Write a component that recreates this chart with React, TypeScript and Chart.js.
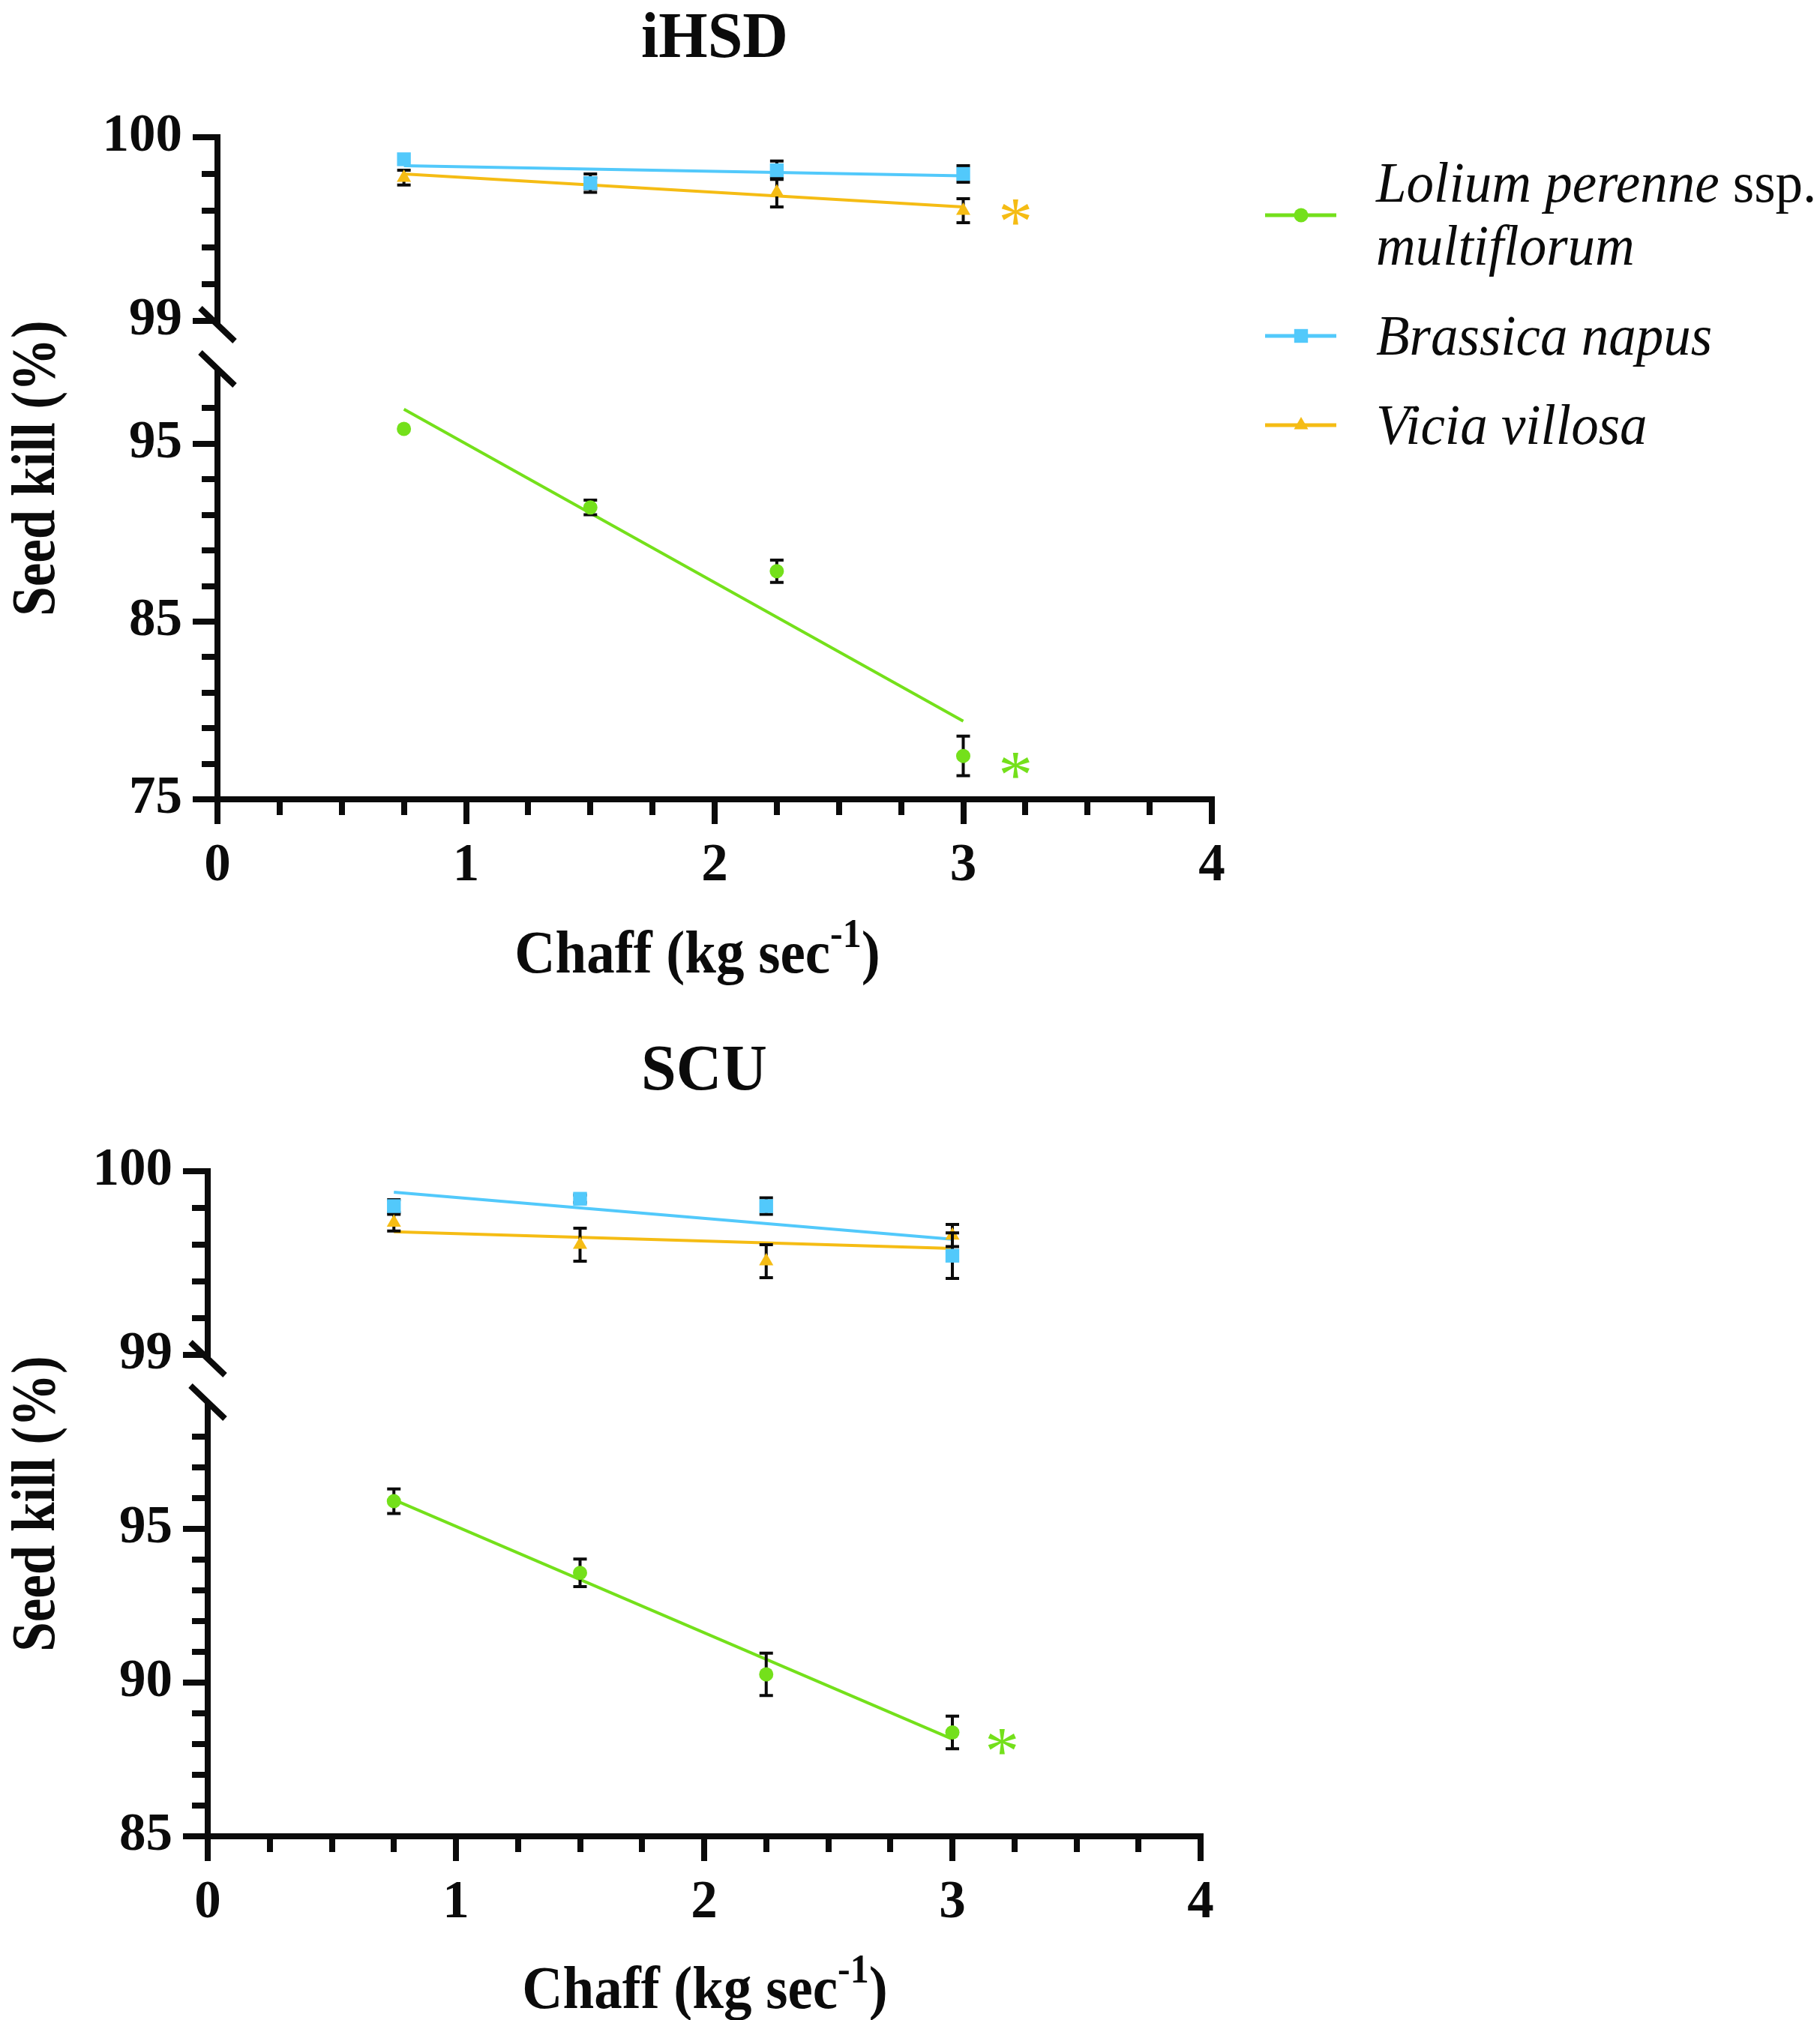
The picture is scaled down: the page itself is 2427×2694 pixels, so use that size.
import { useEffect, useRef } from "react";
import { Chart, registerables } from "chart.js";

Chart.register(...registerables);

// chaff feed rates (kg sec-1) of the measured points
const CHAFF = [0.75, 1.5, 2.25, 3];
// fitted lines run from the first to the last feed rate
const FIT_X = [0.75, 3];

const SERIES = ["Lolium perenne ssp. multiflorum", "Brassica napus", "Vicia villosa"];
const COLORS = ["#74E01B", "#52C9FB", "#F5BC14"];
const MARKERS = ["circle", "rect", "triangle"];
const MARKER_R = [9.5, 13, 11];

// legend text runs (italic species names, upright "ssp.")
const LEGEND_LINES = [
  [[{ t: "Lolium perenne", i: true }, { t: " ssp.", i: false }], [{ t: "multiflorum", i: true }]],
  [[{ t: "Brassica napus", i: true }]],
  [[{ t: "Vicia villosa", i: true }]],
];

// ---- iHSD ----
const IHSD_LOLIUM = [95.84, 91.42, 87.83, 77.44];
const IHSD_LOLIUM_ERR = [0, 0.41, 0.63, 1.11];
const IHSD_BRASSICA = [99.88, 99.75, 99.82, 99.8];
const IHSD_BRASSICA_ERR = [0, 0.05, 0.05, 0.045];
const IHSD_VICIA = [99.78, 99.75, 99.7, 99.6];
const IHSD_VICIA_ERR = [0.04, 0.03, 0.08, 0.065];
const IHSD_LOLIUM_FIT = [96.94, 79.4];
const IHSD_BRASSICA_FIT = [99.845, 99.79];
const IHSD_VICIA_FIT = [99.8, 99.62];

// ---- SCU ----
const SCU_LOLIUM = [95.9, 93.57, 90.27, 88.38];
const SCU_LOLIUM_ERR = [0.4, 0.45, 0.69, 0.53];
const SCU_BRASSICA = [99.81, 99.85, 99.81, 99.54];
const SCU_BRASSICA_ERR = [0.035, 0.02, 0.045, 0.124];
const SCU_VICIA = [99.72, 99.6, 99.51, 99.65];
const SCU_VICIA_ERR = [0.045, 0.09, 0.09, 0.06];
const SCU_LOLIUM_FIT = [95.95, 88.16];
const SCU_BRASSICA_FIT = [99.886, 99.63];
const SCU_VICIA_FIT = [99.67, 99.58];

// axes
const X_TICKS = [0, 1, 2, 3, 4];
const X_MINOR = 0.25;
const UPPER_TICKS = [99, 100];
const UPPER_MINOR = 0.2;
const IHSD_LOWER_TICKS = [75, 85, 95];
const IHSD_LOWER_MINOR = 2;
const SCU_LOWER_TICKS = [85, 90, 95];
const SCU_LOWER_MINOR = 1;
const BREAK_AT = 99;

const INK = "#0b0b0b";
const FONT = '"Liberation Serif", "Times New Roman", serif';
const AXIS_W = 8;
const MAJOR_LEN = 33;
const MINOR_LEN = 17;

const IHSD = {
  title: "iHSD",
  series: [IHSD_LOLIUM, IHSD_BRASSICA, IHSD_VICIA],
  errors: [IHSD_LOLIUM_ERR, IHSD_BRASSICA_ERR, IHSD_VICIA_ERR],
  fits: [IHSD_LOLIUM_FIT, IHSD_BRASSICA_FIT, IHSD_VICIA_FIT],
  lowerTicks: IHSD_LOWER_TICKS,
  lowerMinor: IHSD_LOWER_MINOR,
  stars: [
    { x: 3.21, y: 99.59, s: 2 },
    { x: 3.21, y: 76.9, s: 0 },
  ],
  legend: true,
  geo: {
    top: 0, height: 1340, padTop: 183, padRight: 811, yWidth: 290, xHeight: 274,
    weights: [245, 69, 569], titleBase: 76, xTitleX: 930, xTitleBase: 1297, yTitleBase: 72,
  },
};

const SCU = {
  title: "SCU",
  series: [SCU_LOLIUM, SCU_BRASSICA, SCU_VICIA],
  errors: [SCU_LOLIUM_ERR, SCU_BRASSICA_ERR, SCU_VICIA_ERR],
  fits: [SCU_LOLIUM_FIT, SCU_BRASSICA_FIT, SCU_VICIA_FIT],
  lowerTicks: SCU_LOWER_TICKS,
  lowerMinor: SCU_LOWER_MINOR,
  stars: [{ x: 3.2, y: 88.07, s: 0 }],
  legend: false,
  geo: {
    top: 1340, height: 1354, padTop: 222, padRight: 826, yWidth: 277, xHeight: 245,
    weights: [245, 68, 574], titleBase: 113, xTitleX: 940, xTitleBase: 1338, yTitleBase: 72,
  },
};

const WIDTH = 2427;

function minorValues(min: number, max: number, step: number, majors: number[]) {
  const out: number[] = [];
  for (let k = 1; min + k * step < max - 1e-9; k++) {
    const v = min + k * step;
    if (!majors.some((m) => Math.abs(m - v) < 1e-6)) out.push(v);
  }
  return out;
}

// the reference type is a little taller than it is wide, so stretch it vertically
function tallText(ctx: CanvasRenderingContext2D, text: string, x: number, y: number, sy: number) {
  ctx.save();
  ctx.translate(x, y);
  ctx.scale(1, sy);
  ctx.fillText(text, 0, 0);
  ctx.restore();
}

function drawMarker(ctx: CanvasRenderingContext2D, s: number, x: number, y: number) {
  const r = MARKER_R[s];
  ctx.fillStyle = COLORS[s];
  ctx.beginPath();
  if (MARKERS[s] === "circle") {
    ctx.arc(x, y, r, 0, Math.PI * 2);
  } else if (MARKERS[s] === "rect") {
    const h = r * Math.SQRT1_2;
    ctx.rect(x - h, y - h, 2 * h, 2 * h);
  } else {
    const w = r * Math.sin((2 * Math.PI) / 3);
    ctx.moveTo(x, y - r);
    ctx.lineTo(x + w, y + r / 2);
    ctx.lineTo(x - w, y + r / 2);
    ctx.closePath();
  }
  ctx.fill();
}

const errorBars = {
  id: "errorBars",
  beforeDatasetDraw(chart: any, args: any) {
    const ds = chart.data.datasets[args.index];
    if (!ds.errors) return;
    const ctx = chart.ctx;
    const xs = chart.scales.x;
    const ys = chart.scales[ds.yAxisID];
    ctx.save();
    ctx.strokeStyle = INK;
    ctx.lineWidth = 4;
    ds.data.forEach((pt: any, i: number) => {
      const e = ds.errors[i];
      if (!e) return;
      const px = xs.getPixelForValue(pt.x);
      const top = ys.getPixelForValue(pt.y + e);
      const bot = ys.getPixelForValue(pt.y - e);
      ctx.beginPath();
      ctx.moveTo(px, top);
      ctx.lineTo(px, bot);
      ctx.moveTo(px - 9, top);
      ctx.lineTo(px + 9, top);
      ctx.moveTo(px - 9, bot);
      ctx.lineTo(px + 9, bot);
      ctx.stroke();
    });
    ctx.restore();
  },
};

const decor = {
  id: "decor",
  afterDraw(chart: any, _args: any, opts: any) {
    const p = opts.panel;
    if (!p) return;
    const ctx: CanvasRenderingContext2D = chart.ctx;
    const area = chart.chartArea;
    const { x: xs, yUpper, yLower } = chart.scales;
    ctx.save();

    // minor ticks
    ctx.strokeStyle = INK;
    ctx.lineWidth = AXIS_W;
    ctx.beginPath();
    const ax = area.left;
    const yMinor = [
      [yUpper, minorValues(99, 100, UPPER_MINOR, UPPER_TICKS)],
      [yLower, minorValues(yLower.min, yLower.max, p.lowerMinor, p.lowerTicks)],
    ];
    yMinor.forEach(([sc, vals]: any) => {
      vals.forEach((v: number) => {
        const y = Math.round(sc.getPixelForValue(v));
        ctx.moveTo(ax - AXIS_W / 2, y);
        ctx.lineTo(ax - AXIS_W / 2 - MINOR_LEN, y);
      });
    });
    const ay = area.bottom;
    minorValues(0, 4, X_MINOR, X_TICKS).forEach((v) => {
      const x = Math.round(xs.getPixelForValue(v));
      ctx.moveTo(x, ay + AXIS_W / 2);
      ctx.lineTo(x, ay + AXIS_W / 2 + MINOR_LEN);
    });
    ctx.stroke();

    // axis break marks
    ctx.beginPath();
    [yUpper.bottom + 5, yLower.top - 5].forEach((y: number) => {
      ctx.moveTo(ax - 23, y - 22);
      ctx.lineTo(ax + 23, y + 22);
    });
    ctx.stroke();

    ctx.fillStyle = INK;
    // panel title
    ctx.font = `bold 84px ${FONT}`;
    ctx.textAlign = "center";
    ctx.textBaseline = "alphabetic";
    tallText(ctx, p.title, (area.left + area.right) / 2, p.geo.titleBase, 1.04);

    // y axis title
    ctx.save();
    ctx.translate(p.geo.yTitleBase, (area.top + area.bottom) / 2);
    ctx.rotate(-Math.PI / 2);
    ctx.font = `bold 71px ${FONT}`;
    tallText(ctx, "Seed kill (%)", 0, 0, 1.16);
    ctx.restore();

    // x axis title with superscript
    const mainFont = `bold 75px ${FONT}`;
    const supFont = `bold 50px ${FONT}`;
    ctx.textAlign = "left";
    ctx.font = mainFont;
    const a = "Chaff (kg sec";
    const c = ")";
    const wa = ctx.measureText(a).width;
    const wc = ctx.measureText(c).width;
    ctx.font = supFont;
    const b = "-1";
    const wb = ctx.measureText(b).width;
    let sx = p.geo.xTitleX - (wa + wb + wc) / 2;
    const by = p.geo.xTitleBase;
    ctx.font = mainFont;
    tallText(ctx, a, sx, by, 1.08);
    sx += wa;
    ctx.font = supFont;
    tallText(ctx, b, sx, by - 34, 1.08);
    sx += wb;
    ctx.font = mainFont;
    tallText(ctx, c, sx, by, 1.08);

    // significance asterisks
    ctx.font = `100px ${FONT}`;
    const m = ctx.measureText("*");
    const h100 = m.actualBoundingBoxAscent + m.actualBoundingBoxDescent || 45;
    const size = (100 * 34) / h100;
    ctx.font = `${size}px ${FONT}`;
    const m2 = ctx.measureText("*");
    p.stars.forEach((st: any) => {
      const sc = st.s === 0 ? yLower : yUpper;
      const cx = xs.getPixelForValue(st.x);
      const cy = sc.getPixelForValue(st.y);
      ctx.fillStyle = COLORS[st.s];
      ctx.textAlign = "center";
      ctx.fillText("*", cx, cy + (m2.actualBoundingBoxAscent - m2.actualBoundingBoxDescent) / 2);
    });

    // legend
    if (p.legend) {
      const rows = [287, 448, 567];
      rows.forEach((ry, s) => {
        ctx.strokeStyle = COLORS[s];
        ctx.lineWidth = 5;
        ctx.beginPath();
        ctx.moveTo(1687, ry);
        ctx.lineTo(1782, ry);
        ctx.stroke();
        drawMarker(ctx, s, 1735, ry);
        const lines = LEGEND_LINES[s];
        const first = lines.length === 1 ? ry + 25 : ry - 18;
        ctx.fillStyle = INK;
        ctx.textAlign = "left";
        lines.forEach((runs: any[], li: number) => {
          let tx = 1835;
          runs.forEach((r) => {
            ctx.font = `${r.i ? "italic " : ""}73px ${FONT}`;
            tallText(ctx, r.t, tx, first + li * 84, 1.04);
            tx += ctx.measureText(r.t).width;
          });
        });
      });
    }
    ctx.restore();
  },
};

function axisBase(ticks: number[]) {
  return {
    type: "linear" as const,
    afterBuildTicks: (s: any) => {
      s.ticks = ticks.map((v) => ({ value: v }));
    },
    ticks: {
      autoSkip: false,
      color: INK,
      font: { family: FONT, size: 71, weight: "bold" as const, lineHeight: 1 },
      callback: (v: any) => String(v),
    },
    grid: {
      display: true,
      drawOnChartArea: false,
      drawTicks: true,
      tickLength: MAJOR_LEN,
      tickWidth: AXIS_W,
      tickColor: INK,
      lineWidth: AXIS_W,
      color: INK,
    },
    border: { display: true, width: AXIS_W, color: INK },
  };
}

function buildConfig(p: any): any {
  const g = p.geo;
  const datasets: any[] = [];
  [0, 1, 2].forEach((s) => {
    const axis = s === 0 ? "yLower" : "yUpper";
    datasets.push({
      label: SERIES[s],
      data: CHAFF.map((x, i) => ({ x, y: p.series[s][i] })),
      errors: p.errors[s],
      yAxisID: axis,
      showLine: false,
      pointStyle: MARKERS[s],
      pointRadius: MARKER_R[s],
      pointBackgroundColor: COLORS[s],
      pointBorderWidth: 0,
      order: [2, 1, 3][s],
    });
    datasets.push({
      label: SERIES[s] + " fit",
      data: FIT_X.map((x, i) => ({ x, y: p.fits[s][i] })),
      yAxisID: axis,
      showLine: true,
      borderColor: COLORS[s],
      borderWidth: 4,
      pointRadius: 0,
      order: 5,
    });
  });

  const lowerMin = p.lowerTicks[0];
  return {
    type: "scatter",
    data: { datasets },
    options: {
      animation: false,
      responsive: false,
      maintainAspectRatio: false,
      devicePixelRatio: 1,
      layout: { autoPadding: false, padding: { top: g.padTop, right: g.padRight, bottom: 0, left: 0 } },
      plugins: {
        legend: { display: false },
        tooltip: { enabled: false },
        decor: { panel: p },
      },
      scales: {
        x: {
          ...axisBase(X_TICKS),
          position: "bottom",
          min: 0,
          max: 4,
          ticks: { ...axisBase(X_TICKS).ticks, padding: 21 },
          afterFit: (s: any) => {
            s.height = g.xHeight;
          },
        },
        yLower: {
          ...axisBase(p.lowerTicks),
          position: "left",
          stack: "seed",
          stackWeight: g.weights[2],
          min: lowerMin,
          max: BREAK_AT,
          ticks: { ...axisBase(p.lowerTicks).ticks, padding: 14 },
          afterFit: (s: any) => {
            s.width = g.yWidth;
          },
        },
        yGap: {
          type: "linear",
          position: "left",
          stack: "seed",
          stackWeight: g.weights[1],
          display: false,
          min: 0,
          max: 1,
          afterFit: (s: any) => {
            s.width = g.yWidth;
          },
        },
        yUpper: {
          ...axisBase(UPPER_TICKS),
          position: "left",
          stack: "seed",
          stackWeight: g.weights[0],
          min: BREAK_AT,
          max: 100,
          ticks: { ...axisBase(UPPER_TICKS).ticks, padding: 14 },
          afterFit: (s: any) => {
            s.width = g.yWidth;
          },
        },
      },
    },
    plugins: [errorBars, decor],
  };
}

export default function App() {
  const topRef = useRef<HTMLCanvasElement | null>(null);
  const bottomRef = useRef<HTMLCanvasElement | null>(null);

  useEffect(() => {
    const charts: Chart[] = [];
    const pairs: [HTMLCanvasElement | null, any][] = [
      [topRef.current, IHSD],
      [bottomRef.current, SCU],
    ];
    pairs.forEach(([canvas, panel]) => {
      if (!canvas) return;
      const ctx = canvas.getContext("2d");
      charts.push(new Chart(ctx!, buildConfig(panel)));
    });
    return () => {
      charts.forEach((c) => c.destroy());
    };
  }, []);

  return (
    <div style={{ position: "absolute", left: 0, top: 0, width: WIDTH, height: 2694, background: "#fff" }}>
      <canvas
        ref={topRef}
        width={WIDTH}
        height={IHSD.geo.height}
        style={{ position: "absolute", left: 0, top: IHSD.geo.top, width: WIDTH, height: IHSD.geo.height }}
      />
      <canvas
        ref={bottomRef}
        width={WIDTH}
        height={SCU.geo.height}
        style={{ position: "absolute", left: 0, top: SCU.geo.top, width: WIDTH, height: SCU.geo.height }}
      />
    </div>
  );
}
